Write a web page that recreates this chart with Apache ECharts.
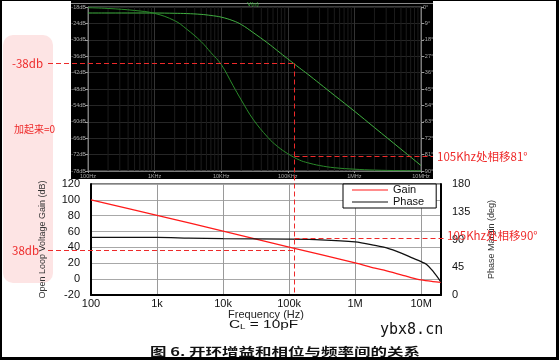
<!DOCTYPE html>
<html><head><meta charset="utf-8">
<script src="https://cdn.jsdelivr.net/npm/echarts@6/dist/echarts.min.js"></script>
<style>html,body{margin:0;padding:0;background:#fff}#c{width:559px;height:360px}</style>
</head><body><div id="c"></div>
<script>
// ---------- Top panel (simulation) data ----------
const topFreqHz   = [100, 200, 500, 1000, 2000, 3000, 5000, 7000, 10000, 15000, 20000, 30000, 50000, 70000, 100000, 150000, 200000, 300000, 500000, 1e6, 2e6, 5e6, 1e7];
const topMagDb    = [-20.2, -20.2, -20.2, -20.2, -20.3, -20.4, -20.7, -21.1, -21.7, -23.0, -24.4, -27.3, -31.2, -34.0, -37.0, -40.3, -42.6, -46.0, -50.3, -56.1, -62.1, -70.0, -76.0];
const topPhaseDeg = [-0.4, -0.8, -1.9, -3.5, -7.5, -12.0, -19.0, -25.0, -31.5, -43.0, -51.0, -61.5, -71.5, -76.5, -80.5, -84.0, -85.5, -87.0, -88.2, -89.0, -89.5, -89.8, -89.9];
const topFreqLabels = ['100Hz', '1KHz', '10KHz', '100KHz', '1MHz', '10MHz'];   // decades 10^2 .. 10^7

// ---------- Bottom panel (datasheet) data ----------
const botGainFreq  = [100, 1000, 10000, 100000, 1e6, 2e6, 3e6, 5e6, 7e6, 1e7, 1.5e7, 2e7];
const botGainDb    = [100, 80.5, 60.5, 40.5, 20.5, 14, 10.5, 5.5, 2, -1, -3, -4];
const botPhaseFreq = [100, 1000, 3000, 10000, 100000, 300000, 1e6, 2e6, 3e6, 5e6, 7e6, 1e7, 1.2e7, 1.5e7, 2e7];
const botPhaseDeg  = [93.5, 93.3, 92.3, 91.3, 90.5, 89.5, 86, 80.5, 76.5, 68, 61, 54, 50, 39, 21];
const botFreqLabels = ['100', '1k', '10k', '100k', '1M', '10M'];

// ---------- Annotation values ----------
const annoFreq = 117000;
const annoTopGain = -38.5, annoTopPhase = -82;
const annoBotGain = 37, annoBotPhase = 92.4;

function zip(a, b) { return a.map((v, i) => [v, b[i]]); }
function decadeLabel(list) {
  return function (v) {
    const e = Math.log10(v), r = Math.round(e);
    return Math.abs(e - r) < 1e-6 ? (list[r - 2] || '') : '';
  };
}
// minor (2..9 per decade) vertical grid of the top panel, as broken line segments
const minorGrid = [];
[100, 1000, 10000, 100000, 1000000].forEach(d => {
  for (let m = 2; m <= 9; m++) { minorGrid.push([d * m, -78], [d * m, -18], [d * m, '-']); }
});

const RED = '#ee2a2a';
const tiny = { fontSize: 5.5, color: '#a8a8a8', fontFamily: 'Liberation Sans' };
const blk = { fontSize: 11, color: '#111', fontFamily: 'Liberation Sans' };
const LINE_ICON = 'path://M0,0H36V1H0Z';

const chart = echarts.init(document.getElementById('c'), null, { renderer: 'canvas' });
const option = {
  animation: false,
  backgroundColor: '#fff',
  grid: [
    { left: 88, top: 7, width: 333, height: 164, show: true, borderColor: '#7a7a7a', borderWidth: 1, backgroundColor: 'transparent' },
    { left: 91, top: 184, width: 350, height: 111, show: true, borderColor: '#000', borderWidth: 1, backgroundColor: '#fff' }
  ],
  xAxis: [
    { type: 'log', logBase: 10, min: 100, max: 1e7, gridIndex: 0,
      axisLine: { onZero: false, lineStyle: { color: '#7a7a7a' } },
      axisTick: { show: true, length: 2, lineStyle: { color: '#999' } },
      axisLabel: Object.assign({ margin: 2, formatter: decadeLabel(topFreqLabels) }, tiny),
      splitLine: { show: true, lineStyle: { color: '#333', width: 1 } } },
    { type: 'log', logBase: 10, min: 100, max: 2e7, gridIndex: 1,
      name: 'Frequency (Hz)', nameLocation: 'middle', nameGap: 9,
      nameTextStyle: { fontSize: 11, color: '#222', fontFamily: 'Liberation Sans' },
      axisLine: { onZero: false, lineStyle: { color: '#000', width: 2 } },
      axisTick: { show: false },
      axisLabel: Object.assign({ margin: 3, formatter: decadeLabel(botFreqLabels) }, blk),
      splitLine: { show: true, lineStyle: { color: '#9a9a9a', width: 1 } } }
  ],
  yAxis: [
    { type: 'value', gridIndex: 0, min: -78, max: -18, interval: 6, position: 'left',
      axisLine: { show: true, onZero: false, lineStyle: { color: '#7a7a7a' } },
      axisTick: { show: true, length: 3, lineStyle: { color: '#999' } },
      axisLabel: Object.assign({ margin: 2, formatter: '{value}dB' }, tiny),
      splitLine: { show: true, lineStyle: { color: '#262626' } } },
    { type: 'value', gridIndex: 0, min: -90, max: 0, interval: 9, position: 'right',
      axisLine: { show: true, onZero: false, lineStyle: { color: '#7a7a7a' } },
      axisTick: { show: true, length: 3, lineStyle: { color: '#999' } },
      axisLabel: Object.assign({ margin: 2, formatter: '{value}°' }, tiny),
      splitLine: { show: false } },
    { type: 'value', gridIndex: 1, min: -20, max: 120, interval: 20, position: 'left',
      name: 'Open Loop Voltage Gain (dB)', nameLocation: 'middle', nameGap: 44,
      nameTextStyle: { fontSize: 9, color: '#333', fontFamily: 'Liberation Sans Narrow, Liberation Sans' },
      axisLine: { show: true, onZero: false, lineStyle: { color: '#000', width: 2 } },
      axisTick: { show: false },
      axisLabel: Object.assign({ margin: 11 }, blk),
      splitLine: { show: true, lineStyle: { color: '#a8a8a8' } } },
    { type: 'value', gridIndex: 1, min: 0, max: 180, interval: 45, position: 'right',
      name: 'Phase Margin (deg)', nameLocation: 'middle', nameGap: 46,
      nameTextStyle: { fontSize: 9, color: '#333', fontFamily: 'Liberation Sans Narrow, Liberation Sans' },
      axisLine: { show: true, onZero: false, lineStyle: { color: '#000', width: 2 } },
      axisTick: { show: false },
      axisLabel: Object.assign({ margin: 11 }, blk),
      splitLine: { show: false } }
  ],
  legend: {
    data: [{ name: 'Gain', icon: LINE_ICON }, { name: 'Phase', icon: LINE_ICON }],
    orient: 'vertical', left: 343, top: 184,
    padding: [0, 12, 0, 9], itemGap: 0, itemWidth: 36, itemHeight: 1.5,
    backgroundColor: '#fff', borderColor: '#000', borderWidth: 1,
    textStyle: { fontSize: 11, color: '#111', fontFamily: 'Liberation Sans', lineHeight: 12 }
  },
  series: [
    { type: 'line', xAxisIndex: 0, yAxisIndex: 0, data: minorGrid, silent: true, z: 1, symbol: 'none',
      connectNulls: false, lineStyle: { color: '#1c1c1c', width: 1 } },
    { type: 'line', xAxisIndex: 0, yAxisIndex: 0, data: zip(topFreqHz, topMagDb), symbol: 'none',
      smooth: 0.4, lineStyle: { color: '#41b041', width: 1 } },
    { type: 'line', xAxisIndex: 0, yAxisIndex: 1, data: zip(topFreqHz, topPhaseDeg), symbol: 'none',
      smooth: 0.4, lineStyle: { color: '#2a8a2a', width: 1 } },
    { name: 'Gain', type: 'line', xAxisIndex: 1, yAxisIndex: 2, data: zip(botGainFreq, botGainDb), symbol: 'none',
      smooth: 0.3, itemStyle: { color: '#ff1a1a' }, lineStyle: { color: '#ff1a1a', width: 1.3 } },
    { name: 'Phase', type: 'line', xAxisIndex: 1, yAxisIndex: 3, data: zip(botPhaseFreq, botPhaseDeg), symbol: 'none',
      smooth: 0.3, itemStyle: { color: '#111' }, lineStyle: { color: '#111', width: 1.3 } }
  ],
  graphic: [
    { type: 'rect', id: 'panel', z: -10, shape: { x: 71, y: 0, width: 362, height: 179 }, style: { fill: '#000' } },
    { type: 'line', id: 'panelTop', z: -9, shape: { x1: 71, y1: 3.5, x2: 433, y2: 3.5 }, style: { stroke: '#8a8a8a', lineWidth: 1 } },
    { type: 'rect', id: 'pink', z: -10, shape: { x: 3, y: 35, width: 50, height: 248, r: 10 }, style: { fill: '#fde4e4' } },
    { type: 'text', id: 'vn', x: 253, y: 4, style: { text: 'V(n)', fill: '#3fbf3f', fontSize: 6, fontFamily: 'Liberation Sans', align: 'center', verticalAlign: 'middle' } },
    { type: 'text', id: 'sum', x: 14, y: 129, style: { text: '加起来=0', fill: RED, fontSize: 10, fontFamily: 'Noto Sans CJK SC', verticalAlign: 'middle' } },
    { type: 'text', id: 'cl', x: 229, y: 325, scaleX: 1.4,
      style: { text: '{c|C}{s|L}{c| = 10pF}', verticalAlign: 'middle',
        rich: { c: { fontSize: 11, fill: '#111', fontFamily: 'Liberation Sans' }, s: { fontSize: 7, fill: '#111', fontFamily: 'Liberation Sans', padding: [5, 0, 0, 0] } } } },
    { type: 'text', id: 'wm', x: 380, y: 330, style: { text: 'ybx8.cn', fill: '#111', fontSize: 15, fontFamily: 'DejaVu Sans Mono', verticalAlign: 'middle' } },
    { type: 'text', id: 'cap', x: 150, y: 352, scaleX: 1.5,
      style: { text: '图 6. 开环增益和相位与频率间的关系', fill: '#111', fontSize: 11, fontWeight: 'bold', fontFamily: 'Noto Sans CJK SC', verticalAlign: 'middle' } },
    { type: 'rect', id: 'bT', z: 50, shape: { x: 0, y: 0, width: 559, height: 1 }, style: { fill: '#000' } },
    { type: 'rect', id: 'bL', z: 50, shape: { x: 0, y: 0, width: 2, height: 360 }, style: { fill: '#000' } },
    { type: 'rect', id: 'bR', z: 50, shape: { x: 556, y: 0, width: 3, height: 360 }, style: { fill: '#000' } },
    { type: 'rect', id: 'bB', z: 50, shape: { x: 0, y: 357, width: 559, height: 3 }, style: { fill: '#000' } }
  ]
};
chart.setOption(option);

// ---------- Red dashed annotations, positioned through the chart's own scales ----------
const crisp = v => Math.round(v) + 0.5;
const pTopGain  = chart.convertToPixel({ xAxisIndex: 0, yAxisIndex: 0 }, [annoFreq, annoTopGain]);
const pTopPhase = chart.convertToPixel({ xAxisIndex: 0, yAxisIndex: 1 }, [annoFreq, annoTopPhase]);
const pBotGain  = chart.convertToPixel({ xAxisIndex: 1, yAxisIndex: 2 }, [annoFreq, annoBotGain]);
const pBotPhase = chart.convertToPixel({ xAxisIndex: 1, yAxisIndex: 3 }, [annoFreq, annoBotPhase]);
const pBotBase  = chart.convertToPixel({ xAxisIndex: 1, yAxisIndex: 2 }, [annoFreq, -20]);
const vx = crisp(pBotGain[0]);
const yTG = crisp(pTopGain[1]), yTP = crisp(pTopPhase[1]), yBG = crisp(pBotGain[1]), yBP = crisp(pBotPhase[1]);
const dash = { stroke: RED, lineWidth: 1, lineDash: [5, 3] };
const txt = (id, x, y, t) => ({ type: 'text', id, x, y, z: 20, style: { text: t, fill: RED, fontSize: 11.5, fontFamily: 'Noto Sans CJK SC', verticalAlign: 'middle' } });
chart.setOption({ graphic: [
  { type: 'line', id: 'dTopH', z: 20, shape: { x1: 48, y1: yTG, x2: vx, y2: yTG }, style: dash },
  { type: 'line', id: 'dV', z: 20, shape: { x1: vx, y1: yTG, x2: vx, y2: pBotBase[1] }, style: dash },
  { type: 'line', id: 'dTopP', z: 20, shape: { x1: vx, y1: yTP, x2: 433, y2: yTP }, style: dash },
  { type: 'line', id: 'dBotG', z: 20, shape: { x1: 48, y1: yBG, x2: vx, y2: yBG }, style: dash },
  { type: 'line', id: 'dBotP', z: 20, shape: { x1: vx, y1: yBP, x2: 445, y2: yBP }, style: dash },
  txt('tTopG', 12, yTG, '-38db'),
  txt('tBotG', 12, yBG, '38db'),
  txt('tTopP', 437, yTP, '105Khz处相移81°'),
  txt('tBotP', 447, yBP - 3, '105Khz处相移90°')
] });
</script></body></html>
